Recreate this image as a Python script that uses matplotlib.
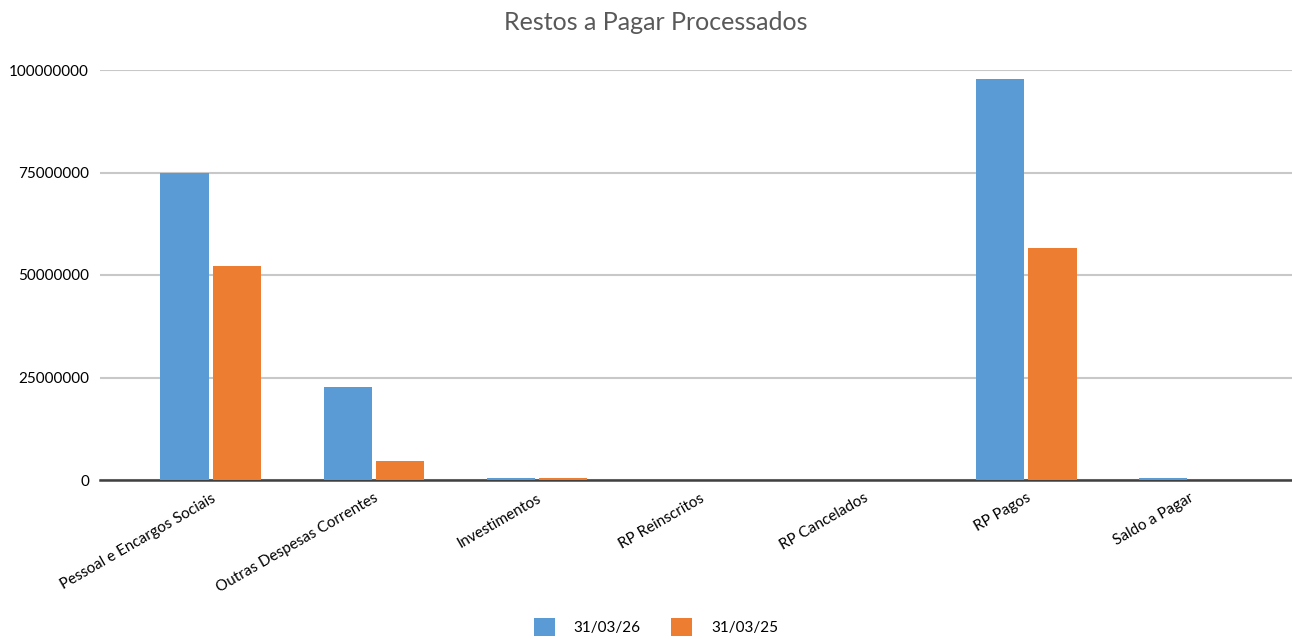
import matplotlib
matplotlib.use("Agg")
import matplotlib.pyplot as plt
import numpy as np

categories = ["Pessoal e Encargos Sociais", "Outras Despesas Correntes", "Investimentos",
              "RP Reinscritos", "RP Cancelados", "RP Pagos", "Saldo a Pagar"]
series_names = ["31/03/26", "31/03/25"]
values_26 = [74900000, 22700000, 500000, 0, 0, 97800000, 500000]
values_25 = [52300000, 4600000, 500000, 0, 0, 56600000, 0]
colors = ["#5B9BD5", "#ED7D31"]
yticks = [0, 25000000, 50000000, 75000000, 100000000]

plt.rcParams['font.family'] = ['Lato', 'DejaVu Sans']

fig = plt.figure(figsize=(12.92, 6.39), dpi=100)
ax = fig.add_axes([100/1292, 1-480/639, 1-100/1292, (480-70)/639])

x = np.arange(len(categories))
w = 0.296
gap = 0.013
ax.bar(x - w/2 - gap, values_26, width=w, color=colors[0], label=series_names[0], zorder=5, clip_on=False)
ax.bar(x + w/2 + gap, values_25, width=w, color=colors[1], label=series_names[1], zorder=5, clip_on=False)

ax.set_ylim(0, 100000000)
ax.set_xlim(-0.68, 6.63)
ax.set_yticks(yticks)
ax.set_yticklabels([str(v) for v in yticks], fontsize=11, color="#000000")
ax.yaxis.grid(True, color="#C8C8C8", linewidth=1.5, zorder=0)
ax.axhline(0, color="#404040", linewidth=1.8, zorder=4, clip_on=False)
for s in ax.spines.values():
    s.set_visible(False)
ax.tick_params(axis='both', length=0)
ax.tick_params(axis='y', pad=8)
ax.set_xticks(x)
ax.set_xticklabels(categories, rotation=30, ha='right', rotation_mode='anchor', fontsize=11)
ax.tick_params(axis='x', pad=8)

fig.suptitle("Restos a Pagar Processados", x=656/1292, y=1-22/639, va='center', fontsize=18, color="#595959")

leg = fig.legend(loc='center', bbox_to_anchor=(656/1292, 1-627/639), ncol=2, frameon=False,
                 fontsize=11, handlelength=1.35, handleheight=1.35, columnspacing=2.0, handletextpad=1.25)

fig.savefig("out.png", dpi=100)
